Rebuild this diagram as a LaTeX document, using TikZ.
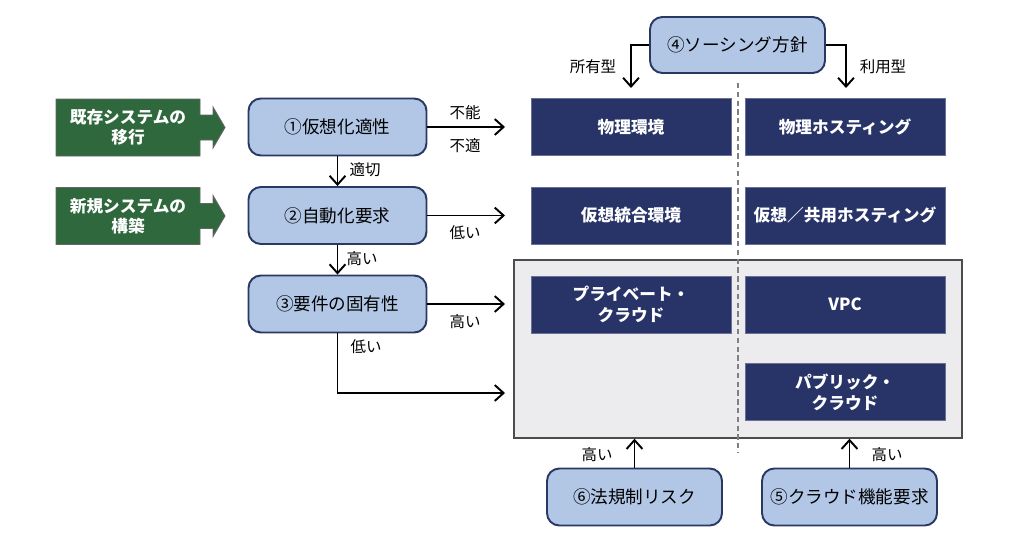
\documentclass[tikz,border=0pt]{standalone}
\usepackage{fontspec}
\setmainfont{Noto Sans CJK JP}
\usetikzlibrary{arrows.meta}
\definecolor{forest}{RGB}{46,104,60}
\definecolor{paleblue}{RGB}{178,198,230}
\definecolor{navyline}{RGB}{42,56,100}
\definecolor{navy}{RGB}{40,52,104}
\definecolor{zonegray}{RGB}{236,236,238}

\tikzset{
  stepbox/.style={draw=navyline, fill=paleblue, rounded corners=7pt, line width=1.1pt,
                  minimum width=3.56cm, minimum height=1.14cm, font=\fontsize{10}{12}\selectfont},
  envbox/.style={fill=navy, draw=navy!70, text=white, minimum width=4.0cm, minimum height=1.14cm,
                 align=center, font=\bfseries\fontsize{9.5}{12}\selectfont},
  lbl/.style={font=\fontsize{8.8}{10}\selectfont},
  arr/.style={-{Straight Barb[length=5pt,width=9pt]}, line width=1.1pt},
}

\begin{document}
\begin{tikzpicture}[x=0.02cm, y=-0.02cm]
            \useasboundingbox (0,0) rectangle (1030,544);
            % grey zone + dividing line
            \node (zone) [draw=black!70, fill=zonegray, line width=0.8pt, minimum width=8.96cm, minimum height=3.56cm] at (738,349) {};
            \draw[black!50, dashed, dash pattern=on 3pt off 2pt, line width=0.8pt] (738,83) -- (738,453);
            % entry arrows
            \foreach \yc in {127.5,216}
                \filldraw[fill=forest, draw=black!60, line width=0.5pt]
                    (56,\yc-28.5) -- (200,\yc-28.5) -- (200,\yc-12.5) -- (213,\yc-12.5) -- (213,\yc-20.5)
                    -- (225,\yc) -- (213,\yc+20.5) -- (213,\yc+12.5) -- (200,\yc+12.5) -- (200,\yc+28.5)
                    -- (56,\yc+28.5) -- cycle;
            \node (mig) [text=white, align=center, font=\bfseries\fontsize{9.5}{11.5}\selectfont] at (128,127.5) {既存システムの\\移行};
            \node (new) [text=white, align=center, font=\bfseries\fontsize{9.5}{11.5}\selectfont] at (128,216) {新規システムの\\構築};
            % decision boxes
            \node (b1) [stepbox] at (337.5,127) {①仮想化適性};
            \node (b2) [stepbox] at (337.5,215.5) {②自動化要求};
            \node (b3) [stepbox] at (337.5,304) {③要件の固有性};
            \node (b4) [stepbox, minimum width=3.5cm, minimum height=1.12cm] at (737.5,45) {④ソーシング方針};
            \node (b5) [stepbox, minimum width=3.5cm] at (849.5,497) {⑤クラウド機能要求};
            \node (b6) [stepbox, minimum width=3.5cm] at (634.5,497) {⑥法規制リスク};
            % environments
            \node (phys)  [envbox] at (631,127)   {物理環境};
            \node (phost) [envbox] at (845,127)   {物理ホスティング};
            \node (virt)  [envbox] at (631,215.5) {仮想統合環境};
            \node (vhost) [envbox] at (845,215.5) {仮想／共用ホスティング};
            \node (priv)  [envbox] at (631,304.5) {プライベート・\\クラウド};
            \node (vpc)   [envbox] at (845,304.5) {VPC};
            \node (pub)   [envbox] at (845,392)   {パブリック・\\クラウド};
            % arrow ends
            \coordinate (t1) at (505,127);
            \coordinate (t2) at (505,215.5);
            \coordinate (t3) at (505,304);
            \coordinate (t4) at (505,393);
            \coordinate (own) at (631,88);
            \coordinate (use) at (846,88);
            % connectors
            \draw[arr] (b1) -- (t1);
            \draw[arr] (b2) -- (t2);
            \draw[arr] (b3) -- (t3);
            \draw[arr] (b3.south) |- (t4);
            \draw[arr] (b1.south) -- (b2.north);
            \draw[arr] (b2.south) -- (b3.north);
            \draw[arr] (b4.west) -| (own);
            \draw[arr] (b4.east) -| (use);
            \draw[arr] (b6.north) -- (b6.north |- zone.south);
            \draw[arr] (b5.north) -- (b5.north |- zone.south);
            % labels
            \node (l1) [lbl] at (465,113) {不能};
            \node (l2) [lbl] at (465,146) {不適};
            \node (l3) [lbl] at (365,170) {適切};
            \node (l4) [lbl] at (465,233) {低い};
            \node (l5) [lbl] at (362,259) {高い};
            \node (l6) [lbl] at (465,322) {高い};
            \node (l7) [lbl] at (366,347) {低い};
            \node (l8) [lbl] at (593,67) {所有型};
            \node (l9) [lbl] at (883,67) {利用型};
            \node (l10) [lbl] at (597,455) {高い};
            \node (l11) [lbl] at (887,455) {高い};
        \end{tikzpicture}
\end{document}
